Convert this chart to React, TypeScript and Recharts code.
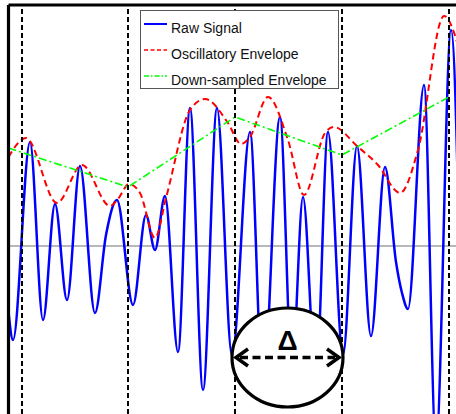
import React from 'react';
import { ComposedChart, Line, XAxis, YAxis, ReferenceLine, ReferenceArea, Legend } from 'recharts';

// ---- data (time in arbitrary units, amplitude in arbitrary units) ----
const rawSignalTime = [
  0, 0.045, 0.215, 0.345, 0.465, 0.585, 0.715, 0.865, 0.975, 1.085, 1.245, 1.375, 1.465, 1.565,
  1.695, 1.815, 1.945, 2.085, 2.235, 2.415, 2.545, 2.715, 2.835, 2.945, 3.075, 3.195, 3.345,
  3.485, 3.625, 3.765, 3.875, 3.935, 3.995, 4.155, 4.275, 4.425, 4.545,
];
const rawSignalValue = [
  -0.66, -0.94, 1.04, -0.74, 0.42, -0.54, 0.8, -0.67, 0.11, 0.46, -0.59, 0.31, -0.04, 0.5,
  -1.06, 1.38, -1.44, 1.38, -1.1, 1.14, -1.44, 1.29, -1.24, 0.49, -1.34, 1.14, -1.09,
  1.0, -0.9, 0.79, -0.16, -0.47, -0.63, 1.61, -1.99, 2.16, -1.74,
];

const envelopeTime = [
  0, 0.175, 0.485, 0.735, 1.015, 1.095, 1.205, 1.315, 1.465, 1.575, 1.815, 1.965, 2.195, 2.325,
  2.415, 2.595, 2.795, 2.955, 3.165, 3.255, 3.485, 3.695, 3.915, 4.095, 4.355, 4.535,
];
const envelopeValue = [
  0.89, 1.08, 0.43, 0.81, 0.4, 0.47, 0.62, 0.53, 0.08, 0.48, 1.36, 1.47, 1.23, 1.02,
  1.09, 1.49, 1.06, 0.51, 1.13, 1.19, 1.0, 0.81, 0.53, 0.96, 2.3, 1.86,
];

const downsampledTime = [0, 1.195, 2.265, 3.335, 4.405];
const downsampledValue = [0.98, 0.59, 1.29, 0.91, 1.49];

const sampleMarks = [0.135, 1.195, 2.265, 3.335, 4.405];
const deltaWindow = [2.235, 3.345];
const deltaAmplitude = [-0.62, -1.61];

const seriesNames = ['Raw Signal', 'Oscillatory Envelope', 'Down-sampled Envelope'];

const xDomain = [0, 4.475];
const yDomain = [-1.68, 2.41];

// ---- derived tables ----
const rawSignal = rawSignalTime.map((t, i) => ({ t, v: rawSignalValue[i] }));
const envelope = envelopeTime.map((t, i) => ({ t, v: envelopeValue[i] }));
const downsampled = downsampledTime.map((t, i) => ({ t, v: downsampledValue[i] }));

// ---- styles ----
const styles = [
  { color: '#0000ff', dash: undefined as string | undefined, width: 2.5 },
  { color: '#ff0000', dash: '6.5 4', width: 2 },
  { color: '#00ff00', dash: '8 3 2 3', width: 1.6 },
];

const FONT = '"Liberation Sans", Arial, Helvetica, sans-serif';

const LegendBox = () => (
  <div
    style={{
      width: 199,
      height: 79,
      boxSizing: 'border-box',
      border: '1px solid #555',
      background: '#fff',
    }}
  >
    <svg width={197} height={77} style={{ display: 'block' }}>
      {seriesNames.map((name, i) => {
        const cy = 13 + i * 26;
        return (
          <g key={name}>
            <line
              x1={3}
              x2={26}
              y1={cy}
              y2={cy}
              stroke={styles[i].color}
              strokeWidth={i === 0 ? 2 : 1.5}
              strokeDasharray={i === 0 ? undefined : i === 1 ? '4 2.5' : '5 2 1.5 2'}
            />
            <text x={30} y={cy + 8.5} fontFamily={FONT} fontSize={14} fill="#111">
              {name}
            </text>
          </g>
        );
      })}
    </svg>
  </div>
);

const DeltaMarker = (props: any) => {
  const { x, y, width, height } = props;
  const cx = x + width / 2;
  const cy = y + height / 2;
  const lx = x + 4;
  const rx = x + width - 4;
  return (
    <g>
      <ellipse cx={cx} cy={cy} rx={width / 2} ry={height / 2} fill="#fff" stroke="#000" strokeWidth={3.2} />
      <line x1={lx + 4} x2={rx - 4} y1={cy} y2={cy} stroke="#000" strokeWidth={3.5} strokeDasharray="8 4.5" />
      <polyline points={`${lx + 12},${cy - 8.5} ${lx},${cy} ${lx + 12},${cy + 8.5}`} fill="none" stroke="#000" strokeWidth={3.5} strokeLinejoin="miter" />
      <polyline points={`${rx - 12},${cy - 8.5} ${rx},${cy} ${rx - 12},${cy + 8.5}`} fill="none" stroke="#000" strokeWidth={3.5} strokeLinejoin="miter" />
      <text x={cx} y={cy - 7.5} textAnchor="middle" fontFamily={FONT} fontWeight="bold" fontSize={28} fill="#000">
        Δ
      </text>
    </g>
  );
};

export default function App() {
  return (
    <div style={{ position: 'absolute', left: 0, top: 0 }}>
      <ComposedChart width={456} height={414} margin={{ top: 5, right: 0, bottom: 0, left: 8.5 }}>
        <XAxis type="number" dataKey="t" domain={xDomain} allowDataOverflow hide />
        <YAxis type="number" dataKey="v" domain={yDomain} allowDataOverflow hide />
        <ReferenceLine y={0} stroke="#a0a0a0" strokeWidth={1.5} zIndex={50} />
        <Line
          data={rawSignal}
          dataKey="v"
          name={seriesNames[0]}
          type="monotone"
          stroke={styles[0].color}
          strokeWidth={styles[0].width}
          dot={false}
          activeDot={false}
          isAnimationActive={false}
          zIndex={400}
        />
        <Line
          data={envelope}
          dataKey="v"
          name={seriesNames[1]}
          type="monotone"
          stroke={styles[1].color}
          strokeWidth={styles[1].width}
          strokeDasharray={styles[1].dash}
          dot={false}
          activeDot={false}
          isAnimationActive={false}
          zIndex={410}
        />
        <Line
          data={downsampled}
          dataKey="v"
          name={seriesNames[2]}
          type="linear"
          stroke={styles[2].color}
          strokeWidth={styles[2].width}
          strokeDasharray={styles[2].dash}
          dot={false}
          activeDot={false}
          isAnimationActive={false}
          zIndex={420}
        />
        {sampleMarks.map((t) => (
          <ReferenceLine key={t} x={t} stroke="#000" strokeWidth={2} strokeDasharray="5 3" zIndex={450} />
        ))}
        <ReferenceLine x={xDomain[0]} stroke="#000" strokeWidth={3.2} zIndex={600} />
        <ReferenceLine y={yDomain[1]} stroke="#000" strokeWidth={3.2} zIndex={600} />
        <ReferenceArea
          x1={deltaWindow[0]}
          x2={deltaWindow[1]}
          y1={deltaAmplitude[0]}
          y2={deltaAmplitude[1]}
          shape={DeltaMarker}
          zIndex={1500}
        />
        <Legend
          layout="horizontal"
          verticalAlign="middle"
          align="center"
          content={() => <LegendBox />}
          wrapperStyle={{ position: 'absolute', left: 140, top: 10, width: 199, height: 79, margin: 0 }}
        />
      </ComposedChart>
    </div>
  );
}
